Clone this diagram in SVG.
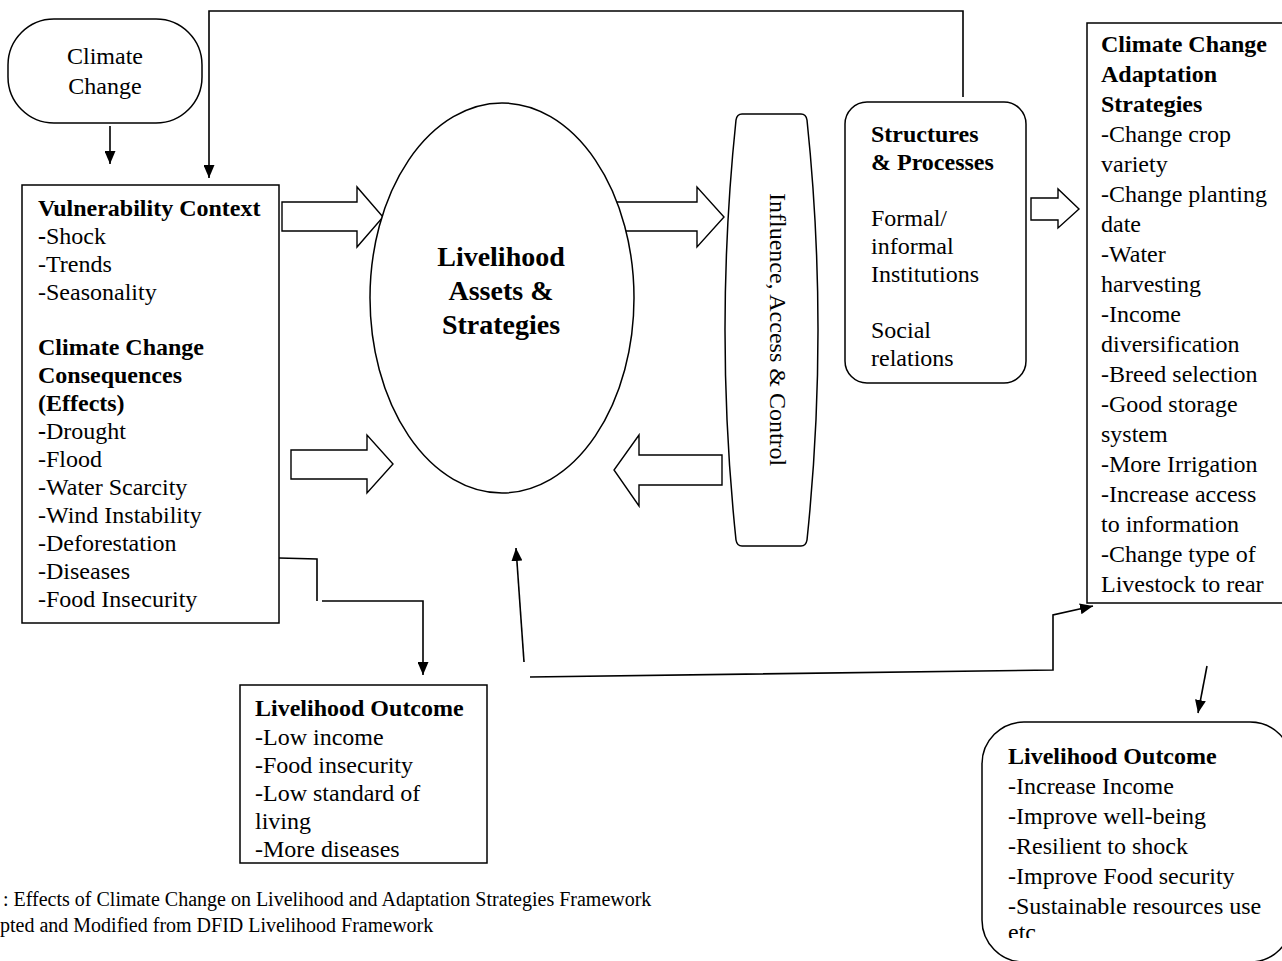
<svg xmlns="http://www.w3.org/2000/svg" width="1282" height="961" viewBox="0 0 1282 961">
<style>
text{font-family:"Liberation Serif","Times New Roman",serif;font-size:24px;fill:#000}
.b{font-weight:bold}
.shape{fill:#fff;stroke:#000;stroke-width:1.5}
.line{fill:none;stroke:#000;stroke-width:1.6}
.blk{fill:#fff;stroke:#000;stroke-width:1.4;stroke-linejoin:miter}
.cap{font-size:20px}
</style>
<defs>
<marker id="ah" viewBox="0 0 10 10" refX="10" refY="5" markerWidth="13" markerHeight="11" markerUnits="userSpaceOnUse" orient="auto" preserveAspectRatio="none">
<path d="M0,0 L10,5 L0,10 Z" fill="#000"/>
</marker>
<clipPath id="clipEtc"><rect x="980" y="720" width="302" height="218"/></clipPath>
</defs>
<rect width="1282" height="961" fill="#fff"/>

<g id="connectors">
<polyline class="line" points="963,97 963,11 209,11 209,178" marker-end="url(#ah)"/>
<line class="line" x1="110" y1="126" x2="110" y2="164" marker-end="url(#ah)"/>
<polyline class="line" points="279,558 317,559 317,601"/>
<polyline class="line" points="322,601 423,601 423,675" marker-end="url(#ah)"/>
<line class="line" x1="524" y1="662" x2="516" y2="548" marker-end="url(#ah)"/>
<polyline class="line" points="530,677 1053,670 1053,615 1093,606" marker-end="url(#ah)"/>
<line class="line" x1="1207" y1="666" x2="1198" y2="713" marker-end="url(#ah)"/>
<path class="blk" d="M282,202 H357 V187 L383,217 L357,247 V231 H282 Z"/>
<path class="blk" d="M291,450 H367 V435 L393,464 L367,493 V479 H291 Z"/>
<path class="blk" d="M600,202 H697 V187 L724,217 L697,247 V231 H600 Z"/>
<path class="blk" d="M722,455 H639 V435 L614,470 L639,506 V485 H722 Z"/>
<path class="blk" d="M1031,198 H1058 V189 L1079,209 L1058,228 V220 H1031 Z"/>
</g>

<g id="climate-change">
<rect class="shape" x="8" y="19" width="194" height="104" rx="46" ry="46"/>
<text x="105" y="64" text-anchor="middle">Climate</text>
<text x="105" y="94" text-anchor="middle">Change</text>
</g>

<g id="vulnerability-context">
<rect class="shape" x="22" y="185" width="257" height="438"/>
<text x="38" y="216" class="b">Vulnerability Context</text>
<text x="38" y="244"><tspan class="b">-</tspan>Shock</text>
<text x="38" y="272">-Trends</text>
<text x="38" y="300">-Seasonality</text>
<text x="38" y="355" class="b">Climate Change</text>
<text x="38" y="383" class="b">Consequences</text>
<text x="38" y="411" class="b">(Effects)</text>
<text x="38" y="439"><tspan class="b">-</tspan>Drought</text>
<text x="38" y="467">-Flood</text>
<text x="38" y="495">-Water Scarcity</text>
<text x="38" y="523">-Wind Instability</text>
<text x="38" y="551">-Deforestation</text>
<text x="38" y="579">-Diseases</text>
<text x="38" y="607">-Food Insecurity</text>
</g>

<g id="livelihood-assets">
<ellipse class="shape" cx="502" cy="298" rx="132" ry="195"/>
<text x="501" y="266" text-anchor="middle" class="b" style="font-size:28px">Livelihood</text>
<text x="501" y="300" text-anchor="middle" class="b" style="font-size:28px">Assets &amp;</text>
<text x="501" y="334" text-anchor="middle" class="b" style="font-size:28px">Strategies</text>
</g>

<g id="influence-access-control">
<path class="shape" d="M742,114 H801 Q806,114 807,120 Q829,330 807,540 Q806,546 801,546 H742 Q737,546 736,540 Q714,330 736,120 Q737,114 742,114 Z"/>
<text transform="translate(770,193) rotate(90)">Influence, Access &amp; Control</text>
</g>

<g id="structures-processes">
<rect class="shape" x="845" y="102" width="181" height="281" rx="22" ry="22"/>
<text x="871" y="142" class="b">Structures</text>
<text x="871" y="170" class="b">&amp; Processes</text>
<text x="871" y="226">Formal/</text>
<text x="871" y="254">informal</text>
<text x="871" y="282">Institutions</text>
<text x="871" y="338">Social</text>
<text x="871" y="366">relations</text>
</g>

<g id="adaptation-strategies">
<rect class="shape" x="1087" y="23" width="200" height="580"/>
<text x="1101" y="52" class="b">Climate Change</text>
<text x="1101" y="82" class="b">Adaptation</text>
<text x="1101" y="112" class="b">Strategies</text>
<text x="1101" y="142">-Change crop</text>
<text x="1101" y="172">variety</text>
<text x="1101" y="202">-Change planting</text>
<text x="1101" y="232">date</text>
<text x="1101" y="262">-Water</text>
<text x="1101" y="292">harvesting</text>
<text x="1101" y="322">-Income</text>
<text x="1101" y="352">diversification</text>
<text x="1101" y="382">-Breed selection</text>
<text x="1101" y="412">-Good storage</text>
<text x="1101" y="442">system</text>
<text x="1101" y="472">-More Irrigation</text>
<text x="1101" y="502">-Increase access</text>
<text x="1101" y="532">to information</text>
<text x="1101" y="562">-Change type of</text>
<text x="1101" y="592">Livestock to rear</text>
</g>

<g id="livelihood-outcome-negative">
<rect class="shape" x="240" y="685" width="247" height="178"/>
<text x="255" y="716" class="b">Livelihood Outcome</text>
<text x="255" y="745">-Low income</text>
<text x="255" y="773">-Food insecurity</text>
<text x="255" y="801">-Low standard of</text>
<text x="255" y="829">living</text>
<text x="255" y="857">-More diseases</text>
</g>

<g id="livelihood-outcome-positive">
<rect class="shape" x="982" y="722" width="310" height="240" rx="42" ry="42"/>
<text x="1008" y="764" class="b">Livelihood Outcome</text>
<text x="1008" y="794">-Increase Income</text>
<text x="1008" y="824">-Improve well-being</text>
<text x="1008" y="854">-Resilient to shock</text>
<text x="1008" y="884">-Improve Food security</text>
<text x="1008" y="914">-Sustainable resources use</text>
<text x="1008" y="940" clip-path="url(#clipEtc)">etc</text>
</g>

<g id="caption">
<text x="3" y="906" class="cap">: Effects of Climate Change on Livelihood and Adaptation Strategies Framework</text>
<text x="0" y="932" class="cap">pted and Modified from DFID Livelihood Framework</text>
</g>
</svg>
